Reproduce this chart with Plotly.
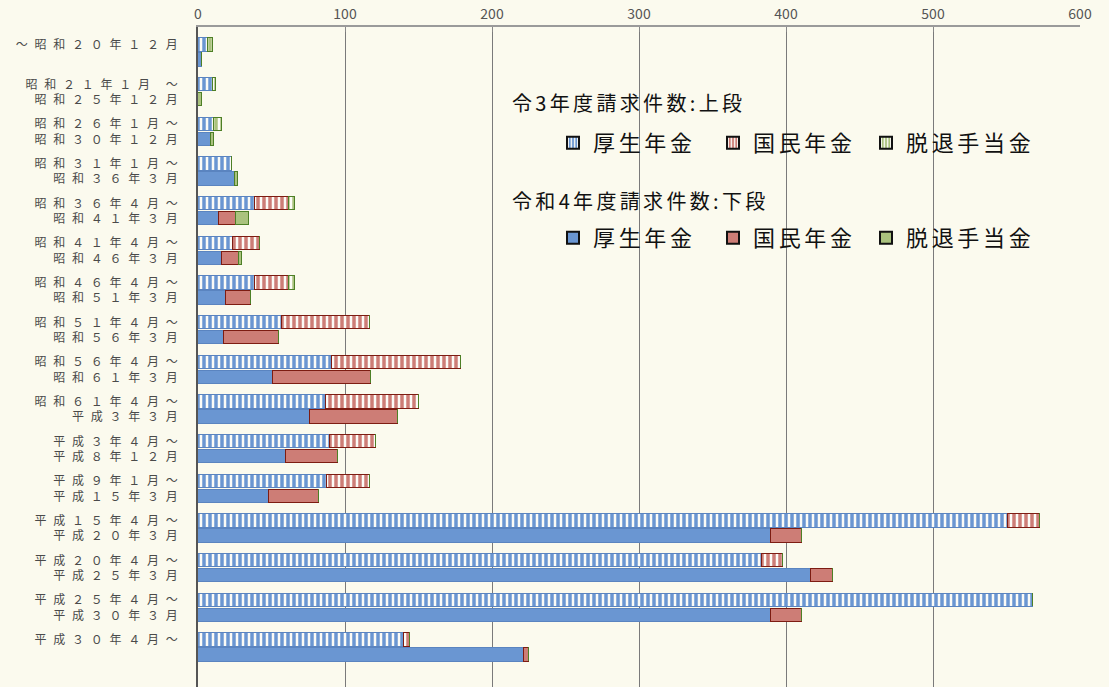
import plotly.graph_objects as go

# ---- data ----
label_line1 = ["～昭和20年12月", "昭和21年1月 ～", "昭和26年1月～", "昭和31年1月～", "昭和36年4月～",
               "昭和41年4月～", "昭和46年4月～", "昭和51年4月～", "昭和56年4月～", "昭和61年4月～",
               "平成3年4月～", "平成9年1月～", "平成15年4月～", "平成20年4月～", "平成25年4月～",
               "平成30年4月～"]
label_line2 = ["", "昭和25年12月", "昭和30年12月", "昭和36年3月", "昭和41年3月",
               "昭和46年3月", "昭和51年3月", "昭和56年3月", "昭和61年3月", "平成3年3月",
               "平成8年12月", "平成15年3月", "平成20年3月", "平成25年3月", "平成30年3月", ""]

# 令3年度請求件数 (upper row)
kosei_r3 = [7, 10, 11, 23, 39, 24, 39, 57, 91, 87, 90, 88, 551, 384, 568, 140]
kokumin_r3 = [0, 0, 0, 0, 23, 18, 23, 60, 88, 63, 31, 29, 22, 14, 0, 4]
dattai_r3 = [3, 2, 5, 0, 4, 0, 4, 0, 0, 0, 0, 0, 0, 0, 0, 0]

# 令和4年度請求件数 (lower row)
kosei_r4 = [3, 0, 9, 25, 14, 16, 19, 18, 51, 76, 60, 48, 390, 417, 390, 222]
kokumin_r4 = [0, 0, 0, 0, 12, 12, 17, 37, 67, 60, 35, 34, 21, 15, 21, 3]
dattai_r4 = [0, 3, 2, 2, 9, 2, 0, 0, 0, 0, 0, 0, 0, 0, 0, 0]

series_names = ["厚生年金", "国民年金", "脱退手当金"]
x_ticks = [0, 100, 200, 300, 400, 500, 600]
heading_r3 = "令3年度請求件数:上段"
heading_r4 = "令和4年度請求件数:下段"

# ---- styling ----
BG = "#fbfaee"
BLUE = "#6a96d2"
BLUE_LINE = "#5a84c0"
RED = "#cd7d76"
RED_LINE = "#7d1c12"
GREEN = "#aac27e"
GREEN_LINE = "#4d7f26"
FONT = "Noto Sans CJK JP"

FW = str.maketrans("0123456789", "０１２３４５６７８９")


def spaced(s, gap="\u2002\u200a"):
    s = s.translate(FW).replace(" ", "\u2009")
    return gap.join(list(s))


def tick_text(a, b):
    line2 = spaced(b) if b else "\u3000"
    return spaced(a) + "<br>" + line2


n = len(label_line1)
pos = list(range(n))
off = 0.19
pos_up = [p - off for p in pos]
pos_lo = [p + off for p in pos]
bw = 0.34

fig = go.Figure()

upper = [(kosei_r3, BLUE, BLUE_LINE), (kokumin_r3, RED, RED_LINE), (dattai_r3, GREEN, GREEN_LINE)]
lower = [(kosei_r4, BLUE, BLUE_LINE), (kokumin_r4, RED, RED_LINE), (dattai_r4, GREEN, GREEN_LINE)]

for (vals, col, lc), name in zip(upper, series_names):
    fig.add_trace(go.Bar(
        x=vals, y=pos_up, orientation="h", width=bw, name=name, showlegend=False,
        marker=dict(color=col, line=dict(color=lc, width=1.2),
                    pattern=dict(shape="|", fgcolor="#fbfbf6", bgcolor=col, size=6,
                                 solidity=0.42, fillmode="replace")),
        hoverinfo="x+name"))

for (vals, col, lc), name in zip(lower, series_names):
    fig.add_trace(go.Bar(
        x=vals, y=pos_lo, orientation="h", width=bw, name=name, showlegend=False,
        marker=dict(color=col, line=dict(color=lc, width=1.2)),
        hoverinfo="x+name"))


def leg_name(s):
    return "\u2006".join(list(s))


# legend-only entries, each in its own legend box
leg_ids = ["legend", "legend2", "legend3", "legend4", "legend5", "legend6"]
k = 0
for (vals, col, lc), name in zip(upper, series_names):
    fig.add_trace(go.Bar(
        x=[None], y=[None], orientation="h", name=leg_name(name), legend=leg_ids[k],
        marker=dict(color=col, line=dict(color="#111111", width=2),
                    pattern=dict(shape="|", fgcolor="#fbfbf6", bgcolor=col, size=4,
                                 solidity=0.45, fillmode="replace"))))
    k += 1
for (vals, col, lc), name in zip(lower, series_names):
    fig.add_trace(go.Bar(
        x=[None], y=[None], orientation="h", name=leg_name(name), legend=leg_ids[k],
        marker=dict(color=col, line=dict(color="#111111", width=2))))
    k += 1

W, H = 1109, 687
ML, MR, MT, MB = 198, 29, 27, 0
pw = W - ML - MR
ph = H - MT - MB


def px_x(p):
    return (p - ML) / pw


def px_y(p):
    return 1 - (p - MT) / ph


leg_common = dict(orientation="h", xanchor="left", yanchor="middle",
                  font=dict(family=FONT, size=22, color="#111111"),
                  bgcolor="rgba(0,0,0,0)", itemwidth=30)

icon_x = [573, 733, 886]
row_y = [143, 238]
legends = {}
k = 0
for ry in row_y:
    for ix in icon_x:
        legends[leg_ids[k]] = dict(x=px_x(ix - 20), y=px_y(ry), **leg_common)
        k += 1

fig.update_layout(
    width=W, height=H,
    margin=dict(l=ML, r=MR, t=MT, b=MB, autoexpand=False),
    paper_bgcolor=BG, plot_bgcolor=BG,
    barmode="stack", bargap=0,
    font=dict(family=FONT, color="#555555"),
    xaxis=dict(side="top", range=[0, 600], tickvals=x_ticks,
               ticktext=[str(v) for v in x_ticks], automargin=False,
               showgrid=True, gridcolor="#7a7a7a", gridwidth=1,
               showline=True, linecolor="#9a9a9a", linewidth=2,
               ticks="inside", ticklen=5, tickcolor="#888888",
               zeroline=False, tickfont=dict(family=FONT, size=14, color="#555555")),
    yaxis=dict(range=[15.996, -0.643], tickvals=pos, automargin=False,
               ticktext=[tick_text(a, b) for a, b in zip(label_line1, label_line2)],
               showgrid=False, zeroline=False, showline=True, linecolor="#555555",
               linewidth=1.5, ticks="", ticklabelstandoff=16,
               tickfont=dict(family=FONT, size=12, color="#4a4a4a")),
    annotations=[
        dict(text=spaced(heading_r3, "\u2006").replace("３", "3"), xref="paper", yref="paper",
             x=px_x(510), y=px_y(103), xanchor="left", yanchor="middle", showarrow=False,
             font=dict(family=FONT, size=20, color="#111111")),
        dict(text=spaced(heading_r4, "\u2006").replace("４", "4"), xref="paper", yref="paper",
             x=px_x(510), y=px_y(200), xanchor="left", yanchor="middle", showarrow=False,
             font=dict(family=FONT, size=20, color="#111111")),
    ],
    **legends,
)

fig.write_html(
    "out.html",
    config={"displayModeBar": False},
    post_script="document.body.style.margin='0';document.body.style.background='" + BG + "';",
)
